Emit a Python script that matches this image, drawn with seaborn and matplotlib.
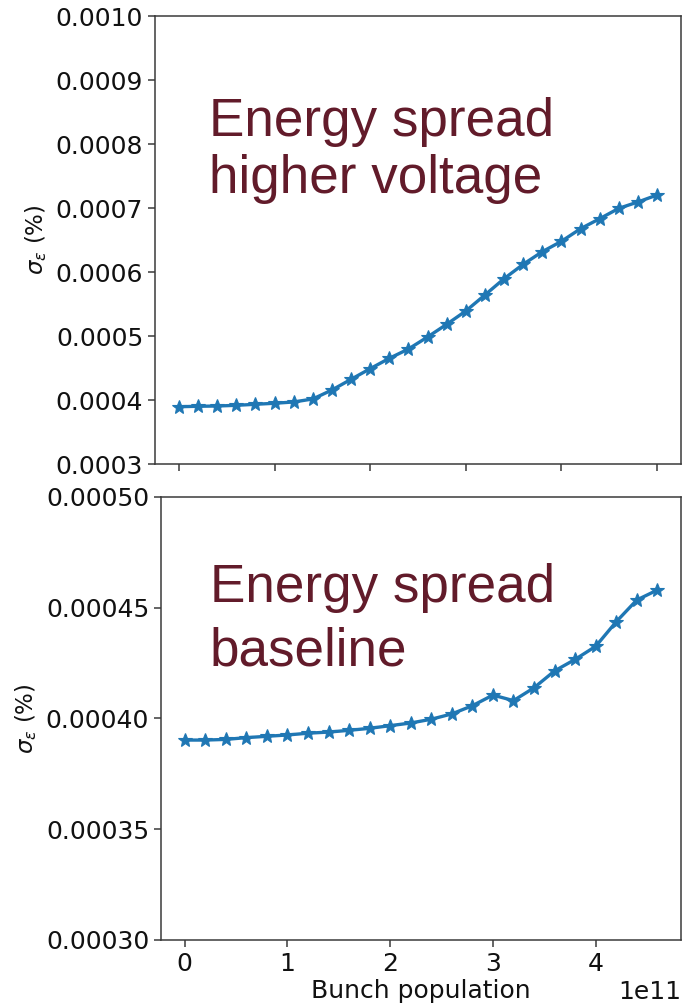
import numpy as np
import matplotlib
matplotlib.use("Agg")
import matplotlib.pyplot as plt
import seaborn as sns
from matplotlib.ticker import FormatStrFormatter

# Bunch population (units of 1e11) and energy spread for the two RF settings
pop_high = np.round(np.arange(0, 26) * 0.2, 1) * 1e11
spread_high = [0.0003899, 0.0003906, 0.0003910, 0.0003921, 0.0003937, 0.0003953,
               0.0003973, 0.0004020, 0.0004160, 0.0004327, 0.0004493, 0.0004655,
               0.0004800, 0.0004988, 0.0005186, 0.0005394, 0.0005644, 0.0005898,
               0.0006123, 0.0006320, 0.0006482, 0.0006679, 0.0006835, 0.0006997,
               0.0007096, 0.0007205]

pop_base = np.round(np.arange(0, 24) * 0.2, 1) * 1e11
spread_base = [0.0003902, 0.0003902, 0.0003905, 0.0003913, 0.0003919, 0.0003925,
               0.0003933, 0.0003938, 0.0003946, 0.0003955, 0.0003967, 0.0003979,
               0.0003996, 0.0004020, 0.0004057, 0.0004105, 0.0004080, 0.0004138,
               0.0004214, 0.0004266, 0.0004325, 0.0004436, 0.0004534, 0.0004579]

yticks_high = [0.0003, 0.0004, 0.0005, 0.0006, 0.0007, 0.0008, 0.0009, 0.0010]
yticks_base = [0.00030, 0.00035, 0.00040, 0.00045, 0.00050]

sns.set_style("ticks")
plt.rcParams["font.family"] = ["DejaVu Sans"]
plt.rcParams["mathtext.fontset"] = "dejavusans"

W, H = 693, 1008
fig = plt.figure(figsize=(W / 100, H / 100), dpi=100)

line_color = "#1f77b4"
text_color = "#621b2a"
spine_color = "#3a3a3a"


def px_axes(left, top, right, bottom):
    return fig.add_axes([left / W, 1 - bottom / H, (right - left) / W, (bottom - top) / H])


def style(ax):
    for s in ax.spines.values():
        s.set_visible(True)
        s.set_color(spine_color)
        s.set_linewidth(1.1)
    ax.tick_params(labelsize=18, length=5, width=1.1, color=spine_color,
                   labelcolor="#111111")
    ax.set_ylabel(r"$\sigma_{\varepsilon}$ (%)", fontsize=16.5, labelpad=5)


line_kws = dict(marker="*", markersize=10, linewidth=2.4, color=line_color,
                markeredgecolor=line_color, markeredgewidth=0.8)

# Upper panel: higher voltage
ax1 = px_axes(155, 16, 681, 464.3)
sns.lineplot(x=pop_high, y=spread_high, ax=ax1, **line_kws)
style(ax1)
ax1.set_ylim(0.0003, 0.0010)
ax1.set_yticks(yticks_high)
ax1.yaxis.set_major_formatter(FormatStrFormatter("%.4f"))
ax1.set_xticks(np.arange(0, 6) * 1e11)
ax1.tick_params(axis="x", labelbottom=False)

# Lower panel: baseline
ax2 = px_axes(161, 496.7, 681, 940)
sns.lineplot(x=pop_base, y=spread_base, ax=ax2, **line_kws)
style(ax2)
ax2.set_ylim(0.00030, 0.00050)
ax2.set_yticks(yticks_base)
ax2.yaxis.set_major_formatter(FormatStrFormatter("%.5f"))
ax2.set_xticks(np.arange(0, 5) * 1e11)
ax2.set_xlabel("Bunch population", fontsize=18, labelpad=2)
ax2.xaxis.get_offset_text().set_fontsize(18)

for ax in (ax1, ax2):
    ax.yaxis.label.set_color("#111111")
    ax.xaxis.label.set_color("#111111")


def label(x, y, s):
    fig.text(x / W, 1 - y / H, s, fontsize=38.2, color=text_color,
             family=["Liberation Sans", "DejaVu Sans"], va="baseline", ha="left")


label(209, 136, "Energy spread")
label(209, 192.7, "higher voltage")
label(210, 601.7, "Energy spread")
label(210, 665, "baseline")

fig.savefig("out.png", dpi=100)
